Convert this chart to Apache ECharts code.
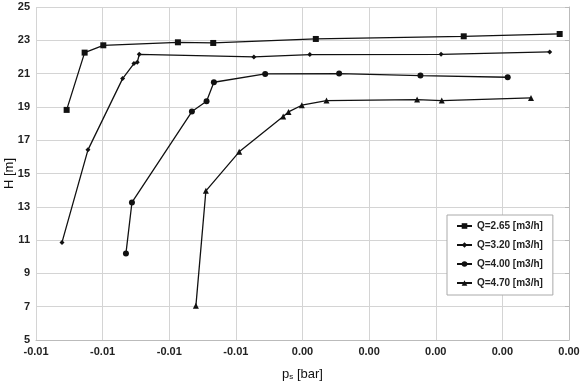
<!DOCTYPE html>
<html>
<head>
<meta charset="utf-8">
<script src="https://cdn.jsdelivr.net/npm/echarts@6/dist/echarts.min.js"></script>
<style>
  html, body { margin: 0; padding: 0; background: #fff; }
  #chart { width: 585px; height: 385px; }
</style>
</head>
<body>
<div id="chart"></div>
<script>
// ps [bar] and H [m], one pair of arrays per flow rate
const q265X = [-0.00754, -0.00727, -0.00699, -0.00587, -0.00534, -0.00380, -0.00158, -0.00014];
const q265Y = [18.82, 22.26, 22.70, 22.88, 22.84, 23.08, 23.24, 23.38];

const q320X = [-0.00761, -0.00722, -0.00670, -0.00653, -0.00648, -0.00645, -0.00473, -0.00389, -0.00192, -0.00029];
const q320Y = [10.86, 16.42, 20.70, 21.60, 21.68, 22.16, 22.00, 22.14, 22.16, 22.30];

const q400X = [-0.00665, -0.00656, -0.00566, -0.00544, -0.00533, -0.00456, -0.00345, -0.00223, -0.00092];
const q400Y = [10.20, 13.26, 18.72, 19.34, 20.48, 20.98, 21.00, 20.88, 20.78];

const q470X = [-0.00560, -0.00545, -0.00495, -0.00429, -0.00421, -0.00401, -0.00364, -0.00228, -0.00191, -0.00057];
const q470Y = [7.05, 13.96, 16.30, 18.42, 18.70, 19.10, 19.38, 19.44, 19.38, 19.54];

const seriesNames = ['Q=2.65 [m3/h]', 'Q=3.20 [m3/h]', 'Q=4.00 [m3/h]', 'Q=4.70 [m3/h]'];
const seriesSymbols = ['rect', 'diamond', 'circle', 'triangle'];
const seriesSizes = [6, 5, 6, 6];

const xs = [q265X, q320X, q400X, q470X];
const ys = [q265Y, q320Y, q400Y, q470Y];

const font = '"Liberation Sans", Arial, sans-serif';
const gridColor = '#d4d4d4';

const pairs = (x, y) => x.map((v, i) => [v, y[i]]);

// labels shown with two decimals, like the original spreadsheet
const fmt2 = v => {
    const a = Math.abs(v);
    const s = (Math.round(a * 1000) / 1000 + 1e-9).toFixed(2);
    return (v < 0 && s !== '0.00' ? '-' : '') + s;
}

const option = {
    backgroundColor: '#fff',
    animation: false,
    grid: {
        left: 36,
        right: 16,
        top: 7,
        bottom: 45,
        containLabel: false,
        outerBoundsMode: 'none'
    },
    legend: {
        orient: 'vertical',
        left: 447,
        top: 215,
        data: seriesNames,
        backgroundColor: '#fff',
        borderColor: '#aaa',
        borderWidth: 1,
        padding: [6, 10, 7, 9],
        itemGap: 9,
        itemWidth: 15,
        itemHeight: 7,
        textStyle: {
            fontFamily: font,
            fontSize: 10,
            fontWeight: 'bold',
            color: '#222'
        }
    },
    xAxis: {
        type: 'value',
        min: -0.008,
        max: 0,
        interval: 0.001,
        name: 'p{s|s} [bar]',
        nameLocation: 'middle',
        nameGap: 27,
        nameMoveOverlap: false,
        nameTextStyle: {
            fontFamily: font,
            fontSize: 13,
            color: '#111',
            rich: {
                s: { fontSize: 8, verticalAlign: 'bottom', padding: [6, 0, 0, 0] }
            }
        },
        axisLine: { show: true, lineStyle: { color: '#bbb' } },
        axisTick: { show: false },
        splitLine: { show: true, lineStyle: { color: gridColor, width: 1 } },
        axisLabel: {
            formatter: fmt2,
            margin: 6,
            fontFamily: font,
            fontSize: 11,
            fontWeight: 'bold',
            color: '#222'
        }
    },
    yAxis: {
        type: 'value',
        min: 5,
        max: 25,
        interval: 2,
        name: 'H [m]',
        nameLocation: 'middle',
        nameGap: 20,
        nameMoveOverlap: false,
        nameRotate: 90,
        nameTextStyle: {
            fontFamily: font,
            fontSize: 13,
            color: '#111'
        },
        axisLine: { show: true, lineStyle: { color: '#bbb' } },
        axisTick: { show: true, length: 4, lineStyle: { color: '#bbb' } },
        splitLine: { show: true, lineStyle: { color: gridColor, width: 1 } },
        axisLabel: {
            margin: 6,
            fontFamily: font,
            fontSize: 11,
            fontWeight: 'bold',
            color: '#222'
        }
    },
    series: seriesNames.map((name, i) => ({
        name,
        type: 'line',
        data: pairs(xs[i], ys[i]),
        symbol: seriesSymbols[i],
        symbolSize: seriesSizes[i],
        showAllSymbol: true,
        lineStyle: { color: '#111', width: 1.3 },
        itemStyle: { color: '#111' },
        emphasis: { disabled: true }
    }))
}

const chart = echarts.init(document.getElementById('chart'));
chart.setOption(option);
window.addEventListener('resize', () => {
    chart.resize();
})
</script>
</body>
</html>
